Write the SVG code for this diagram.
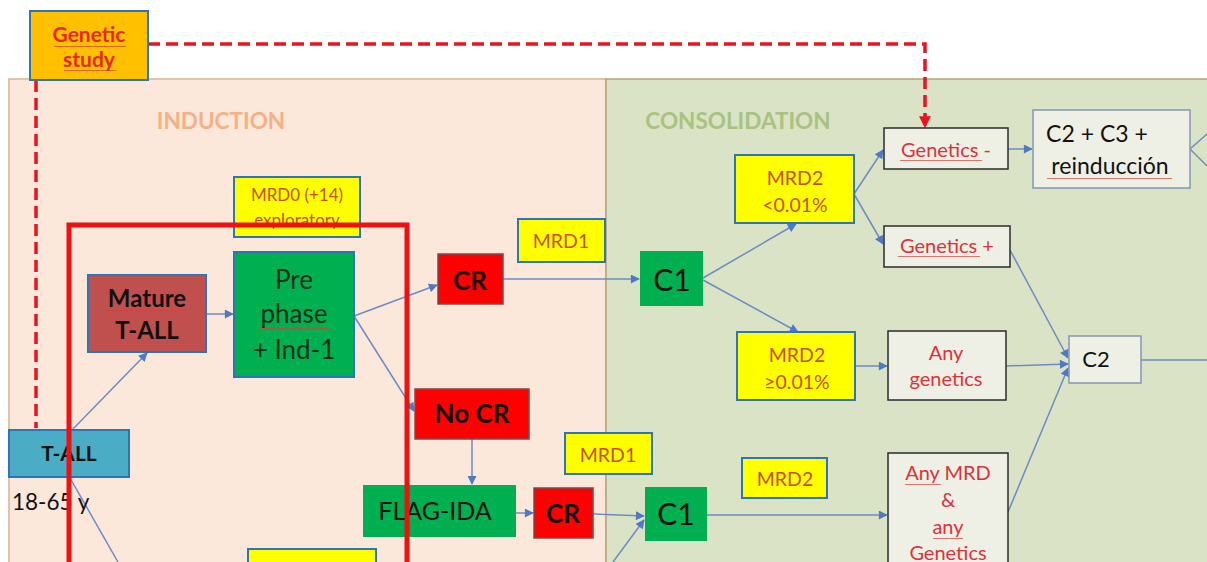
<svg xmlns="http://www.w3.org/2000/svg" width="1207" height="562" viewBox="0 0 1207 562">
  <style>
    text { font-family: Lato, "Open Sans", "Liberation Sans", sans-serif; text-anchor: middle; }
    .panel-ind { fill: #fce8da; stroke: #d9b48f; stroke-width: 1.5; }
    .panel-con { fill: #dae3c5; stroke: #b8a37a; stroke-width: 1.5; }
    .title-ind { fill: #f4b183; font-size: 22.5px; font-weight: bold; }
    .title-con { fill: #a9c27f; font-size: 22.5px; font-weight: bold; }
    .mrd { fill: #ffff00; stroke: #2e75b6; stroke-width: 2; }
    .mrd-t { fill: #c9501a; font-size: 19.5px; }
    .mrd-s { fill: #c9501a; font-size: 17px; }
    .green { fill: #00b050; }
    .green-b { fill: #00b050; stroke: #2e75b6; stroke-width: 2; }
    .red { fill: #ff0000; stroke: #7a4a4a; stroke-width: 1.5; }
    .gen { fill: #eef0e6; stroke: #2b2b2b; stroke-width: 1.5; }
    .gen-t { fill: #e0303a; font-size: 20px; }
    .plain { fill: #eef0e6; stroke: #8497b0; stroke-width: 1.5; }
    .dark { fill: #111; }
    .conn { stroke: #6c8cc4; stroke-width: 1.5; fill: none; }
    .dash { stroke: #e8141e; stroke-width: 3.5; fill: none; stroke-dasharray: 12 6; }
    .squig { fill: url(#wave); }
  </style>
  <defs>
    <marker id="arr" viewBox="0 0 10 10" refX="9" refY="5" markerWidth="10" markerHeight="9" orient="auto" markerUnits="userSpaceOnUse">
      <path d="M0,0 L10,5 L0,10 z" fill="#4f79c2"/>
    </marker>
    <marker id="arr-red" viewBox="0 0 10 10" refX="9" refY="5" markerWidth="13" markerHeight="12" orient="auto" markerUnits="userSpaceOnUse">
      <path d="M0,0 L10,5 L0,10 z" fill="#e8141e"/>
    </marker>
    <!-- wavy proofing underline -->
    <pattern id="wave" width="4" height="3" patternUnits="userSpaceOnUse">
      <path d="M0,2 L1,1 L2,2 L3,1 L4,2" stroke="#e03a3a" stroke-width="0.7" fill="none"/>
    </pattern>
  </defs>

  <rect x="0" y="0" width="1207" height="562" fill="#ffffff"/>

  <!-- phase panels -->
  <g id="panel-induction">
    <rect class="panel-ind" x="9" y="79" width="597" height="490"/>
    <text class="title-ind" x="221" y="129">INDUCTION</text>
  </g>
  <g id="panel-consolidation">
    <rect class="panel-con" x="606" y="79" width="610" height="490"/>
    <text class="title-con" x="738" y="129">CONSOLIDATION</text>
  </g>

  <!-- connectors -->
  <g id="connectors">
    <path class="dash" d="M148,44 H925 V127" marker-end="url(#arr-red)"/>
    <path class="dash" d="M36,80 V428"/>
    <line class="conn" x1="73" y1="429" x2="147" y2="353" marker-end="url(#arr)"/>
    <line class="conn" x1="70" y1="478" x2="118" y2="562"/>
    <line class="conn" x1="206" y1="314" x2="233" y2="314" marker-end="url(#arr)"/>
    <line class="conn" x1="354" y1="316" x2="437" y2="285" marker-end="url(#arr)"/>
    <line class="conn" x1="354" y1="316" x2="414" y2="411" marker-end="url(#arr)"/>
    <line class="conn" x1="503" y1="279" x2="639" y2="279" marker-end="url(#arr)"/>
    <line class="conn" x1="703" y1="278" x2="796" y2="224" marker-end="url(#arr)"/>
    <line class="conn" x1="703" y1="280" x2="798" y2="332" marker-end="url(#arr)"/>
    <line class="conn" x1="854" y1="194" x2="883" y2="150" marker-end="url(#arr)"/>
    <line class="conn" x1="854" y1="194" x2="883" y2="244" marker-end="url(#arr)"/>
    <line class="conn" x1="1008" y1="149" x2="1032" y2="149" marker-end="url(#arr)"/>
    <line class="conn" x1="1190" y1="149" x2="1207" y2="134"/>
    <line class="conn" x1="1190" y1="149" x2="1207" y2="166"/>
    <line class="conn" x1="1010" y1="250" x2="1068" y2="358" marker-end="url(#arr)"/>
    <line class="conn" x1="855" y1="366" x2="887" y2="366" marker-end="url(#arr)"/>
    <line class="conn" x1="1006" y1="366" x2="1068" y2="364" marker-end="url(#arr)"/>
    <line class="conn" x1="1008" y1="512" x2="1068" y2="368" marker-end="url(#arr)"/>
    <line class="conn" x1="1141" y1="360" x2="1207" y2="360"/>
    <line class="conn" x1="472" y1="439" x2="472" y2="484" marker-end="url(#arr)"/>
    <line class="conn" x1="516" y1="513" x2="533" y2="513" marker-end="url(#arr)"/>
    <line class="conn" x1="593" y1="514" x2="644" y2="516" marker-end="url(#arr)"/>
    <line class="conn" x1="613" y1="562" x2="644" y2="520" marker-end="url(#arr)"/>
    <line class="conn" x1="707" y1="515" x2="887" y2="515" marker-end="url(#arr)"/>
  </g>

  <!-- nodes -->
  <g id="genetic-study">
    <rect x="30" y="11" width="118" height="69" fill="#ffc000" stroke="#2e75b6" stroke-width="2"/>
    <text x="89" y="42" fill="#e8281e" font-size="21" font-weight="bold">Genetic</text>
    <text x="89" y="67" fill="#e8281e" font-size="21" font-weight="bold">study</text>
    <rect class="squig" x="54" y="44" width="72" height="3"/>
    <rect class="squig" x="64" y="70" width="52" height="3"/>
  </g>

  <g id="mrd0">
    <rect class="mrd" x="234" y="177" width="126" height="60"/>
    <text class="mrd-s" x="297" y="201">MRD0 (+14)</text>
    <text class="mrd-s" x="297" y="226">exploratory</text>
  </g>

  <g id="t-all">
    <rect x="9" y="430" width="120" height="47" fill="#4bacc6" stroke="#2e75b6" stroke-width="2"/>
    <text x="69" y="461" font-size="21" font-weight="bold" class="dark">T-ALL</text>
    <text x="12" y="510" font-size="22.5" class="dark" style="text-anchor:start">18-65 y</text>
  </g>

  <g id="mature-t-all">
    <rect x="88" y="275" width="118" height="77" fill="#c0504d" stroke="#2e75b6" stroke-width="2"/>
    <text x="147" y="307" font-size="24" font-weight="bold" class="dark">Mature</text>
    <text x="147" y="339" font-size="24" font-weight="bold" class="dark">T-ALL</text>
    <rect class="squig" x="108" y="310" width="78" height="3"/>
  </g>

  <g id="pre-phase">
    <rect class="green-b" x="234" y="252" width="120" height="125"/>
    <text x="294" y="289" font-size="26" fill="#103018">Pre</text>
    <text x="294" y="323" font-size="26" fill="#103018">phase</text>
    <text x="294" y="359" font-size="26" fill="#103018">+ Ind-1</text>
    <rect class="squig" x="259" y="327" width="71" height="3"/>
  </g>

  <g id="cr-1">
    <rect class="red" x="438" y="254" width="65" height="50"/>
    <text x="470" y="290" font-size="26" font-weight="bold" class="dark">CR</text>
  </g>

  <g id="mrd1-a">
    <rect class="mrd" x="518" y="219" width="87" height="43"/>
    <text class="mrd-t" x="561" y="248">MRD1</text>
  </g>

  <g id="c1-a">
    <rect class="green" x="640" y="251" width="63" height="55"/>
    <text x="672" y="291" font-size="30" class="dark">C1</text>
  </g>

  <g id="mrd2-low">
    <rect class="mrd" x="735" y="155" width="119" height="68"/>
    <text class="mrd-t" x="795" y="185">MRD2</text>
    <text class="mrd-t" x="795" y="212">&lt;0.01%</text>
  </g>

  <g id="mrd2-high">
    <rect class="mrd" x="737" y="332" width="118" height="68"/>
    <text class="mrd-t" x="797" y="362">MRD2</text>
    <text class="mrd-t" x="797" y="389">≥0.01%</text>
  </g>

  <g id="genetics-neg">
    <rect class="gen" x="884" y="128" width="124" height="41"/>
    <text class="gen-t" x="946" y="157">Genetics -</text>
    <rect class="squig" x="900" y="160" width="82" height="3"/>
  </g>

  <g id="c2-c3-reinduccion">
    <rect class="plain" x="1033" y="110" width="157" height="78"/>
    <text x="1097" y="142" font-size="23" class="dark">C2 + C3 +</text>
    <text x="1110" y="174" font-size="23" class="dark">reinducción</text>
    <rect class="squig" x="1047" y="177" width="125" height="3"/>
  </g>

  <g id="genetics-pos">
    <rect class="gen" x="884" y="226" width="126" height="41"/>
    <text class="gen-t" x="947" y="253">Genetics +</text>
    <rect class="squig" x="898" y="256" width="82" height="3"/>
  </g>

  <g id="any-genetics">
    <rect class="gen" x="888" y="331" width="118" height="69"/>
    <text class="gen-t" x="946" y="360">Any</text>
    <text class="gen-t" x="946" y="386">genetics</text>
  </g>

  <g id="c2">
    <rect class="plain" x="1069" y="336" width="72" height="47"/>
    <text x="1096" y="367" font-size="22" class="dark">C2</text>
  </g>

  <g id="no-cr">
    <rect class="red" x="415" y="389" width="114" height="50"/>
    <text x="472" y="423" font-size="26" font-weight="bold" class="dark">No CR</text>
  </g>

  <g id="mrd1-b">
    <rect class="mrd" x="565" y="433" width="87" height="41"/>
    <text class="mrd-t" x="608" y="462">MRD1</text>
  </g>

  <g id="flag-ida">
    <rect class="green" x="363" y="485" width="153" height="52"/>
    <text x="435" y="520" font-size="25" class="dark">FLAG-IDA</text>
  </g>

  <g id="cr-2">
    <rect class="red" x="534" y="488" width="59" height="50"/>
    <text x="563" y="523" font-size="26" font-weight="bold" class="dark">CR</text>
  </g>

  <g id="c1-b">
    <rect class="green" x="645" y="487" width="62" height="54"/>
    <text x="676" y="525" font-size="30" class="dark">C1</text>
  </g>

  <g id="mrd2-c">
    <rect class="mrd" x="742" y="458" width="85" height="40"/>
    <text class="mrd-t" x="785" y="486">MRD2</text>
  </g>

  <g id="any-mrd">
    <rect class="gen" x="888" y="453" width="120" height="120"/>
    <text class="gen-t" x="948" y="480">Any MRD</text>
    <text class="gen-t" x="948" y="507">&amp;</text>
    <text class="gen-t" x="948" y="534">any</text>
    <text class="gen-t" x="948" y="560">Genetics</text>
    <rect class="squig" x="905" y="484" width="36" height="3"/>
    <rect class="squig" x="933" y="538" width="30" height="3"/>
  </g>

  <g id="mrd-lower">
    <rect class="mrd" x="248" y="549" width="128" height="30"/>
  </g>

  <!-- highlighted induction block -->
  <g id="highlight-frame">
    <path d="M69,570 V225 H407 V570" fill="none" stroke="#ee1111" stroke-width="5"/>
  </g>
</svg>
